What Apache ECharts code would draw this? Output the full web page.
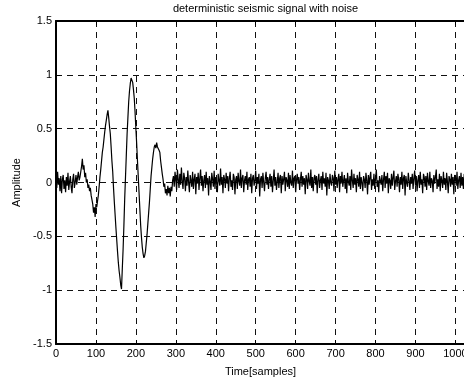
<!DOCTYPE html>
<html>
<head>
<meta charset="utf-8">
<script src="https://cdn.jsdelivr.net/npm/echarts@6/dist/echarts.min.js"></script>
<style>
html,body{margin:0;padding:0;background:#fff;}
#c{width:464px;height:381px;}
</style>
</head>
<body>
<div id="c"></div>
<script>
// sample spacing of the amplitude list (samples)
var sampleStep = 2;
var xTicks = [0,100,200,300,400,500,600,700,800,900,1000];
var yTicks = [-1.5,-1,-0.5,0,0.5,1,1.5];
var titleText = 'deterministic seismic signal with noise';
var xName = 'Time[samples]';
var yName = 'Amplitude';

// samples 0..58
var amplitudeLead = [0.08,-0.05,0.1,-0.02,0.04,-0.08,0.06,-0.1,0.03,0.07,-0.06,0.02,-0.09,0.05,-0.03,0.09,-0.07,0.01,0.06,-0.04,-0.1,0.03,0.08,-0.05,0.0,0.07,-0.02,0.05,0.1,0.02];
// samples 60..292 (wavelet)
var amplitudeWavelet = [0.05,0.1,0.15,0.22,0.12,0.16,0.05,0.09,0.0,0.03,
-0.05,-0.02,-0.08,-0.05,-0.12,-0.16,-0.2,-0.28,-0.23,-0.32,
-0.2,-0.23,-0.17,-0.12,-0.04,0.05,0.12,0.2,0.28,0.33,
0.4,0.47,0.53,0.58,0.63,0.67,0.6,0.52,0.45,0.33,
0.2,0.1,-0.05,-0.18,-0.3,-0.42,-0.53,-0.64,-0.74,-0.82,
-0.88,-0.95,-0.99,-0.8,-0.62,-0.4,-0.15,0.05,0.25,0.45,
0.6,0.75,0.85,0.92,0.97,0.98,0.93,0.86,0.78,0.65,
0.5,0.36,0.2,0.05,-0.1,-0.25,-0.4,-0.51,-0.6,-0.66,
-0.7,-0.68,-0.64,-0.56,-0.48,-0.38,-0.28,-0.18,-0.06,0.06,
0.14,0.22,0.28,0.33,0.35,0.32,0.37,0.33,0.34,0.3,
0.28,0.2,0.14,0.08,0.03,-0.04,-0.01,-0.1,-0.06,-0.12,
-0.03,-0.1,-0.05,-0.13,-0.04,-0.08,0.02];
// samples 294..1022
var amplitudeTail = [0.06,-0.04,0.1,0.02,-0.07,0.12,0.03,-0.05,0.08,-0.02,0.14,0.01,-0.06,0.09,0.04,-0.08,0.05,-0.03,0.11,0.0,
-0.09,0.07,0.02,-0.04,0.1,-0.06,0.03,0.08,-0.11,0.05,-0.01,0.09,-0.07,0.04,0.12,-0.03,0.06,-0.08,0.02,0.07,
-0.05,0.1,-0.02,0.04,-0.12,0.06,0.01,-0.07,0.09,0.03,-0.04,0.11,-0.06,0.05,0.0,-0.09,0.08,0.02,-0.03,0.13,
-0.02,0.05,-0.1,0.07,0.03,-0.05,0.09,-0.01,0.06,-0.08,0.04,0.1,-0.04,0.02,-0.07,0.08,0.05,-0.11,0.03,0.06,
-0.06,0.09,0.01,-0.03,0.12,-0.05,0.04,0.07,-0.09,0.02,0.06,-0.02,0.1,-0.07,0.03,0.05,-0.04,0.08,-0.1,0.04,
0.07,-0.03,0.02,0.11,-0.06,0.05,-0.01,0.08,-0.13,0.03,0.06,-0.05,0.09,0.0,-0.08,0.04,0.1,-0.02,0.05,-0.06,
0.03,0.08,-0.04,0.06,-0.09,0.02,0.12,-0.03,0.05,-0.07,0.01,0.09,-0.05,0.04,0.07,-0.1,0.06,-0.02,0.03,0.1,
-0.08,0.05,0.02,-0.04,0.09,-0.06,0.07,0.0,-0.03,0.11,-0.05,0.04,0.06,-0.09,0.02,0.08,-0.01,0.05,-0.07,0.03,
0.1,-0.04,0.06,-0.02,0.04,-0.11,0.07,0.03,-0.06,0.09,0.01,-0.03,0.12,-0.05,0.05,-0.08,0.04,0.07,-0.02,0.06,
-0.1,0.03,0.08,-0.05,0.02,0.06,-0.07,0.1,-0.01,0.04,-0.04,0.09,-0.12,0.05,0.02,-0.06,0.08,0.0,-0.03,0.07,
0.04,-0.08,0.11,-0.02,0.05,-0.05,0.03,0.08,-0.09,0.06,-0.01,0.1,-0.04,0.02,0.07,-0.06,0.04,-0.1,0.09,0.01,
-0.03,0.06,-0.07,0.12,0.02,-0.05,0.08,-0.02,0.04,-0.09,0.07,0.03,-0.04,0.1,-0.06,0.05,0.0,-0.08,0.06,0.03,
-0.05,0.09,0.02,-0.11,0.07,-0.02,0.05,0.1,-0.07,0.03,-0.03,0.08,-0.06,0.04,0.12,-0.04,0.02,-0.09,0.06,0.05,
-0.02,0.07,-0.08,0.03,0.1,-0.05,0.06,-0.01,0.09,-0.1,0.04,0.02,-0.06,0.08,-0.03,0.05,0.11,-0.07,0.01,0.06,
-0.04,0.08,0.03,-0.09,0.05,-0.02,0.1,-0.06,0.04,0.07,-0.12,0.06,0.0,-0.04,0.09,0.02,-0.07,0.05,-0.01,0.08,
-0.06,0.04,0.11,-0.03,0.06,-0.08,0.02,0.07,-0.05,0.1,-0.02,0.03,-0.1,0.08,0.05,-0.04,0.06,-0.07,0.09,0.01,
-0.03,0.1,-0.05,0.04,0.02,-0.09,0.07,-0.01,0.05,0.12,-0.06,0.03,-0.04,0.08,-0.08,0.06,0.02,-0.05,0.1,-0.02,
0.04,-0.07,0.09,0.01,-0.1,0.06,0.03,-0.04,0.08,-0.02,0.05,-0.11,0.07,0.04,-0.03,0.1,-0.06,0.02,0.06,-0.05,
0.09,-0.03,0.05,-0.06,0.08];

var amplitude = amplitudeLead.concat(amplitudeWavelet, amplitudeTail);
var seriesData = amplitude.map(function (v, i) { return [i * sampleStep, v]; });

var font = 'Liberation Sans, Arial, Helvetica, sans-serif';
var gridDash = {color: '#111', width: 1, type: [6, 5]};
function xLabel(v) { return xTicks.indexOf(v) >= 0 ? String(v) : ''; }

var chart = echarts.init(document.getElementById('c'), null, {renderer: 'canvas'});
chart.setOption({
  animation: false,
  backgroundColor: '#fff',
  title: {
    text: titleText, left: 260.5, top: -2, textAlign: 'center',
    textStyle: {fontFamily: font, fontSize: 11, fontWeight: 'normal', color: '#000'}
  },
  grid: {left: 56, width: 409, top: 21, bottom: 37, containLabel: false, outerBoundsMode: 'none'},
  xAxis: [{
    type: 'value', min: 0, max: 1024, interval: 100, position: 'bottom',
    name: xName, nameLocation: 'middle', nameGap: 22,
    nameTextStyle: {fontFamily: font, fontSize: 11, color: '#000'},
    axisLine: {show: true, onZero: false, lineStyle: {color: '#000', width: 2}},
    axisTick: {show: true, inside: true, length: 4, lineStyle: {color: '#000'}},
    axisLabel: {color: '#000', fontFamily: font, fontSize: 11, margin: 4, formatter: xLabel},
    splitLine: {show: true, lineStyle: gridDash}
  }, {
    type: 'value', min: 0, max: 1024, interval: 100, position: 'top',
    axisLine: {show: true, onZero: false, lineStyle: {color: '#000', width: 2}},
    axisTick: {show: true, inside: true, length: 4, lineStyle: {color: '#000'}},
    axisLabel: {show: false},
    splitLine: {show: false}
  }],
  yAxis: [{
    type: 'value', min: -1.5, max: 1.5, interval: 0.5,
    name: yName, nameLocation: 'middle', nameGap: 33, nameRotate: 90,
    nameTextStyle: {fontFamily: font, fontSize: 11, color: '#000'},
    axisLine: {show: true, onZero: false, lineStyle: {color: '#000', width: 2}},
    axisTick: {show: true, inside: true, length: 4, lineStyle: {color: '#000'}},
    axisLabel: {color: '#000', fontFamily: font, fontSize: 11, margin: 4},
    splitLine: {show: true, lineStyle: gridDash}
  }],
  series: [{
    type: 'line', data: seriesData, showSymbol: false, symbol: 'none',
    lineStyle: {color: '#000', width: 1.2}, z: 3
  }]
});
</script>
</body>
</html>
